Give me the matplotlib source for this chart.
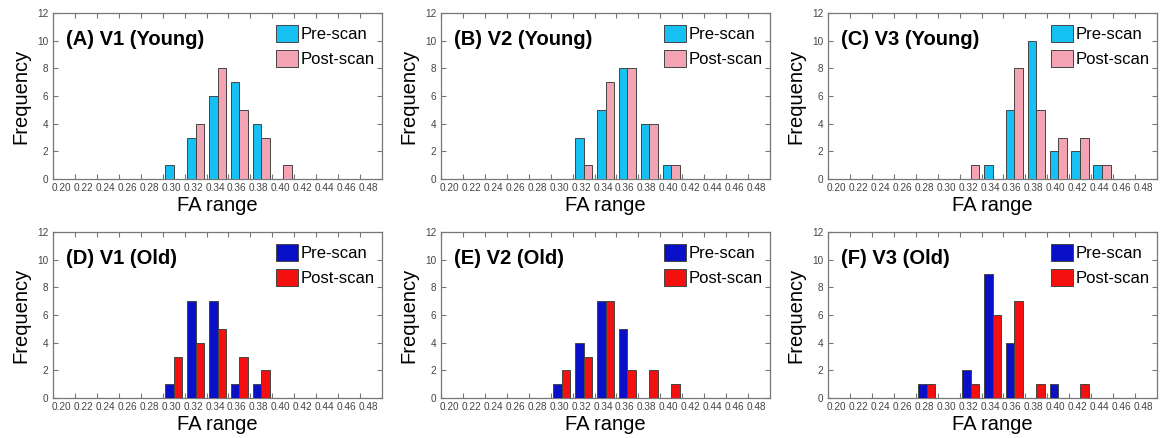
import numpy as np
import matplotlib
matplotlib.use("Agg")
import matplotlib.pyplot as plt

plt.rcParams['font.family'] = ['Liberation Sans', 'DejaVu Sans']

# bin starts (FA range)
bins = np.round(np.arange(0.20, 0.49, 0.02), 2)

titles = ["(A) V1 (Young)", "(B) V2 (Young)", "(C) V3 (Young)",
          "(D) V1 (Old)", "(E) V2 (Old)", "(F) V3 (Old)"]

#                 .20 .22 .24 .26 .28 .30 .32 .34 .36 .38 .40 .42 .44 .46 .48
pre_v1_young  = [0, 0, 0, 0, 0, 1, 3, 6, 7, 4, 0, 0, 0, 0, 0]
post_v1_young = [0, 0, 0, 0, 0, 0, 4, 8, 5, 3, 1, 0, 0, 0, 0]
pre_v2_young  = [0, 0, 0, 0, 0, 0, 3, 5, 8, 4, 1, 0, 0, 0, 0]
post_v2_young = [0, 0, 0, 0, 0, 0, 1, 7, 8, 4, 1, 0, 0, 0, 0]
pre_v3_young  = [0, 0, 0, 0, 0, 0, 0, 1, 5, 10, 2, 2, 1, 0, 0]
post_v3_young = [0, 0, 0, 0, 0, 0, 1, 0, 8, 5, 3, 3, 1, 0, 0]
pre_v1_old    = [0, 0, 0, 0, 0, 1, 7, 7, 1, 1, 0, 0, 0, 0, 0]
post_v1_old   = [0, 0, 0, 0, 0, 3, 4, 5, 3, 2, 0, 0, 0, 0, 0]
pre_v2_old    = [0, 0, 0, 0, 0, 1, 4, 7, 5, 0, 0, 0, 0, 0, 0]
post_v2_old   = [0, 0, 0, 0, 0, 2, 3, 7, 2, 2, 1, 0, 0, 0, 0]
pre_v3_old    = [0, 0, 0, 0, 1, 0, 2, 9, 4, 0, 1, 0, 0, 0, 0]
post_v3_old   = [0, 0, 0, 0, 1, 0, 1, 6, 7, 1, 0, 1, 0, 0, 0]

pre = [pre_v1_young, pre_v2_young, pre_v3_young, pre_v1_old, pre_v2_old, pre_v3_old]
post = [post_v1_young, post_v2_young, post_v3_young, post_v1_old, post_v2_old, post_v3_old]

young_colors = ("#14c1f2", "#f4a3b2")
old_colors = ("#0a10c8", "#f51010")

fig = plt.figure(figsize=(11.61, 4.38), dpi=100)
W, H = 1161.0, 438.0
lefts = [53, 441, 828]
tops = [13, 232]
aw, ah = 329, 166

for k in range(6):
    r, c = divmod(k, 3)
    ax = fig.add_axes([lefts[c] / W, 1 - (tops[r] + ah) / H, aw / W, ah / H])
    cols = young_colors if r == 0 else old_colors
    ax.bar(bins + 0.006, pre[k], width=0.008, color=cols[0], edgecolor="#444444",
           linewidth=0.7, label="Pre-scan", zorder=3)
    ax.bar(bins + 0.014, post[k], width=0.008, color=cols[1], edgecolor="#444444",
           linewidth=0.7, label="Post-scan", zorder=3)
    ax.set_xlim(0.20, 0.50)
    ax.set_ylim(0, 12)
    ax.set_yticks(range(0, 13, 2))
    # tick marks at bin starts, labels slightly to the right
    ax.set_xticks(bins)
    ax.set_xticklabels([])
    ax.set_xticks(bins + 0.0077, minor=True)
    ax.set_xticklabels(["%.2f" % b for b in bins], minor=True)
    ax.tick_params(axis="x", which="minor", length=0, pad=3, labelsize=7.2, labelcolor="#444444")
    ax.tick_params(axis="both", which="major", direction="in", length=3.5, width=0.8,
                   color="#777777", top=True, right=True, labelsize=7.2, labelcolor="#444444")
    for s in ax.spines.values():
        s.set_color("#777777")
        s.set_linewidth(0.9)
    ax.set_xlabel("FA range", fontsize=14.5, labelpad=2)
    ax.set_ylabel("Frequency", fontsize=14.5, labelpad=5)
    ax.text(0.04, 0.84, titles[k], transform=ax.transAxes, fontsize=14.5,
            fontweight="bold", va="center", ha="left")
    ax.legend(loc="upper right", bbox_to_anchor=(1.015, 1.005), frameon=False,
              fontsize=12, handlelength=1.3, handleheight=1.25, handletextpad=0.15,
              labelspacing=0.45, borderaxespad=0.45, borderpad=0.3)

fig.savefig("out.png", dpi=100)
